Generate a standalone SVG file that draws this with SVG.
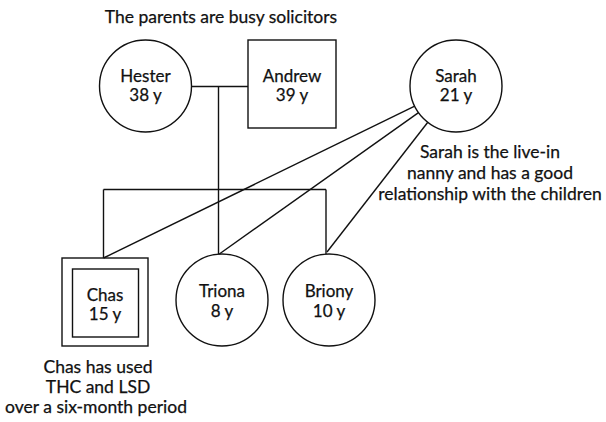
<svg xmlns="http://www.w3.org/2000/svg" width="606" height="422" viewBox="0 0 606 422">
<style>
.s{fill:none;stroke:#111;stroke-width:1.4}
text{font-family:Lato,"Open Sans","Liberation Sans",sans-serif;font-size:17.5px;fill:#111;text-anchor:middle;stroke:#111;stroke-width:0.25}
.n{font-size:17px}
</style>
<rect width="606" height="422" fill="#fff"/>
<text x="221" y="23">The parents are busy solicitors</text>
<g id="connectors" class="s">
<line x1="191.5" y1="86.5" x2="248" y2="86.5"/>
<line x1="218.5" y1="86.5" x2="218.5" y2="254"/>
<line x1="103.5" y1="189.5" x2="326" y2="189.5"/>
<line x1="103.5" y1="189.5" x2="103.5" y2="258"/>
<line x1="326" y1="189.5" x2="326" y2="254"/>
<line x1="414.7" y1="106.2" x2="103.5" y2="258"/>
<line x1="418.5" y1="112.6" x2="219.3" y2="254"/>
<line x1="427.8" y1="122.3" x2="327" y2="252"/>
</g>
<g id="hester"><circle class="s" cx="145.5" cy="86" r="46"/><text class="n" x="145.5" y="82">Hester</text><text class="n" x="145.5" y="101">38 y</text></g>
<g id="andrew"><rect class="s" x="248" y="40" width="88" height="88"/><text class="n" x="292" y="82">Andrew</text><text class="n" x="292" y="101">39 y</text></g>
<g id="sarah"><circle class="s" cx="456" cy="86" r="46"/><text class="n" x="456" y="82">Sarah</text><text class="n" x="456" y="101">21 y</text></g>
<g id="chas"><rect class="s" x="62" y="258" width="86" height="88"/><rect class="s" x="72.5" y="269" width="66" height="68"/><text class="n" x="105" y="301">Chas</text><text class="n" x="105" y="320">15 y</text></g>
<g id="triona"><circle class="s" cx="222" cy="300" r="46"/><text class="n" x="222" y="297">Triona</text><text class="n" x="222" y="317">8 y</text></g>
<g id="briony"><circle class="s" cx="329" cy="300" r="46"/><text class="n" x="329" y="297">Briony</text><text class="n" x="329" y="317">10 y</text></g>
<g id="sarah-note"><text x="490" y="158">Sarah is the live-in</text><text x="490" y="179">nanny and has a good</text><text x="490" y="200">relationship with the children</text></g>
<g id="chas-note"><text x="98" y="373">Chas has used</text><text x="98" y="393">THC and LSD</text><text x="96" y="413">over a six-month period</text></g>
</svg>
